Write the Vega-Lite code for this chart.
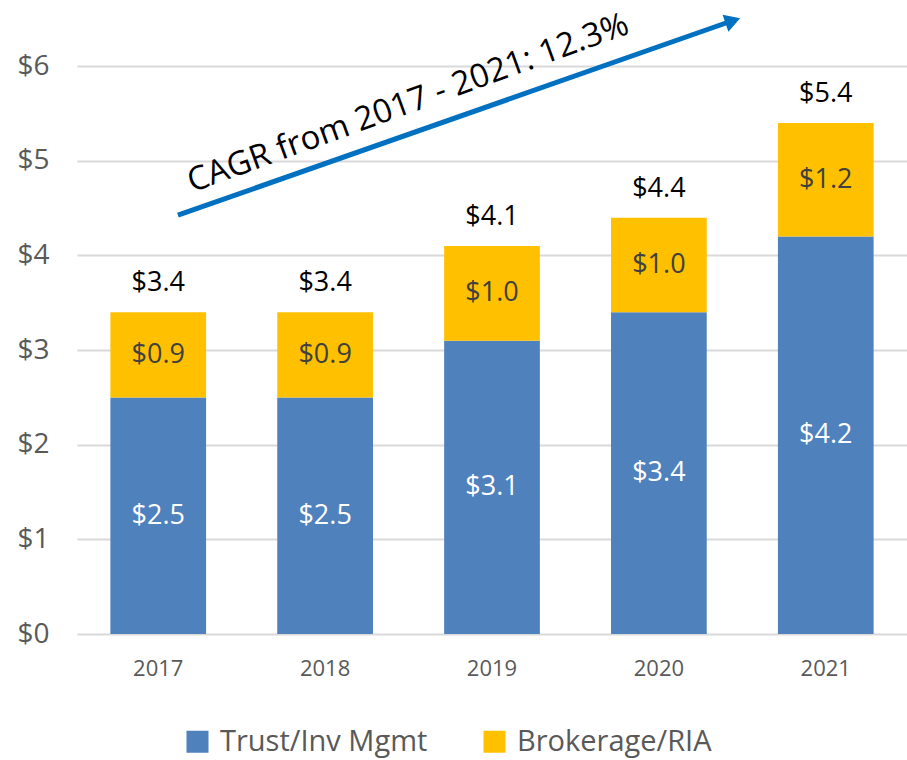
{
  "$schema": "https://vega.github.io/schema/vega-lite/v6.json",
  "width": 830,
  "height": 634,
  "autosize": {"type": "none"},
  "padding": {"left": 77, "top": 0, "right": 0, "bottom": 126},
  "background": "white",
  "config": {
    "font": "Open Sans",
    "view": {"stroke": null}
  },
  "datasets": {
    "rev": [
      {"year": "2017", "series": "Trust/Inv Mgmt", "value": 2.5},
      {"year": "2017", "series": "Brokerage/RIA", "value": 0.9},
      {"year": "2018", "series": "Trust/Inv Mgmt", "value": 2.5},
      {"year": "2018", "series": "Brokerage/RIA", "value": 0.9},
      {"year": "2019", "series": "Trust/Inv Mgmt", "value": 3.1},
      {"year": "2019", "series": "Brokerage/RIA", "value": 1.0},
      {"year": "2020", "series": "Trust/Inv Mgmt", "value": 3.4},
      {"year": "2020", "series": "Brokerage/RIA", "value": 1.0},
      {"year": "2021", "series": "Trust/Inv Mgmt", "value": 4.2},
      {"year": "2021", "series": "Brokerage/RIA", "value": 1.2}
    ]
  },
  "resolve": {"scale": {"x": "independent"}},
  "layer": [
    {
      "layer": [
        {
          "data": {"name": "rev"},
          "transform": [
            {"stack": "value", "groupby": ["year"], "sort": [{"field": "series", "order": "descending"}], "as": ["v0", "v1"]}
          ],
          "mark": {"type": "bar"},
          "encoding": {
            "x": {
              "field": "year", "type": "nominal",
              "scale": {"paddingInner": 0.4265, "paddingOuter": 0.2},
              "axis": {"title": null, "domain": false, "ticks": false, "labelFontSize": 22, "labelColor": "#595959", "labelPadding": 24, "labelAngle": 0}
            },
            "y": {
              "field": "v0", "type": "quantitative",
              "scale": {"domain": [0, 6.7], "nice": false},
              "axis": {"title": null, "domain": false, "ticks": false, "values": [0, 1, 2, 3, 4, 5, 6], "labelExpr": "'$' + datum.value", "labelFontSize": 28, "labelColor": "#595959", "labelPadding": 28, "gridColor": "#D9D9D9", "gridWidth": 2}
            },
            "y2": {"field": "v1"},
            "color": {
              "field": "series", "type": "nominal",
              "scale": {"domain": ["Trust/Inv Mgmt", "Brokerage/RIA"], "range": ["#4F81BD", "#FFC000"]},
              "legend": {"title": null, "orient": "none", "legendX": 106, "legendY": 727, "padding": 0, "direction": "horizontal", "symbolType": "square", "symbolSize": 484, "symbolStrokeWidth": 0, "labelFontSize": 29, "labelColor": "#595959", "labelOffset": 8, "labelLimit": 0, "columnPadding": 52}
            }
          }
        },
        {
          "data": {"name": "rev"},
          "transform": [
            {"stack": "value", "groupby": ["year"], "sort": [{"field": "series", "order": "descending"}], "as": ["v0", "v1"]},
            {"calculate": "(datum.v0 + datum.v1) / 2", "as": "mid"}
          ],
          "mark": {"type": "text", "fontSize": 27, "baseline": "middle", "align": "center"},
          "encoding": {
            "x": {"field": "year", "type": "nominal"},
            "y": {"field": "mid", "type": "quantitative"},
            "text": {"field": "value", "type": "quantitative", "format": "$.1f"},
            "color": {"condition": {"test": "datum.series == 'Trust/Inv Mgmt'", "value": "white"}, "value": "#404040"}
          }
        },
        {
          "data": {"name": "rev"},
          "transform": [
            {"aggregate": [{"op": "sum", "field": "value", "as": "total"}], "groupby": ["year"]}
          ],
          "mark": {"type": "text", "fontSize": 27, "baseline": "alphabetic", "align": "center", "dy": -21, "color": "#000000"},
          "encoding": {
            "x": {"field": "year", "type": "nominal"},
            "y": {"field": "total", "type": "quantitative"},
            "text": {"field": "total", "type": "quantitative", "format": "$.1f"}
          }
        }
      ]
    },
    {
      "layer": [
        {
          "data": {"values": [{}]},
          "mark": {"type": "rule", "color": "#0070C0", "strokeWidth": 5},
          "encoding": {
            "x": {"datum": 2017.125, "type": "quantitative", "scale": {"domain": [2016.522, 2021.48], "nice": false, "zero": false}, "axis": null},
            "y": {"datum": 4.426, "type": "quantitative"},
            "x2": {"datum": 2020.42},
            "y2": {"datum": 6.47}
          }
        },
        {
          "data": {"values": [{}]},
          "mark": {"type": "point", "shape": "triangle", "filled": true, "color": "#0070C0", "size": 320, "angle": 71, "opacity": 1},
          "encoding": {
            "x": {"datum": 2020.425, "type": "quantitative"},
            "y": {"datum": 6.472, "type": "quantitative"}
          }
        },
        {
          "data": {"values": [{"label": "CAGR from 2017 - 2021: 12.3%"}]},
          "mark": {"type": "text", "fontSize": 33, "angle": 340, "align": "center", "baseline": "middle", "color": "#000000"},
          "encoding": {
            "x": {"datum": 2018.5, "type": "quantitative"},
            "y": {"datum": 5.609, "type": "quantitative"},
            "text": {"field": "label", "type": "nominal"}
          }
        }
      ]
    }
  ]
}
